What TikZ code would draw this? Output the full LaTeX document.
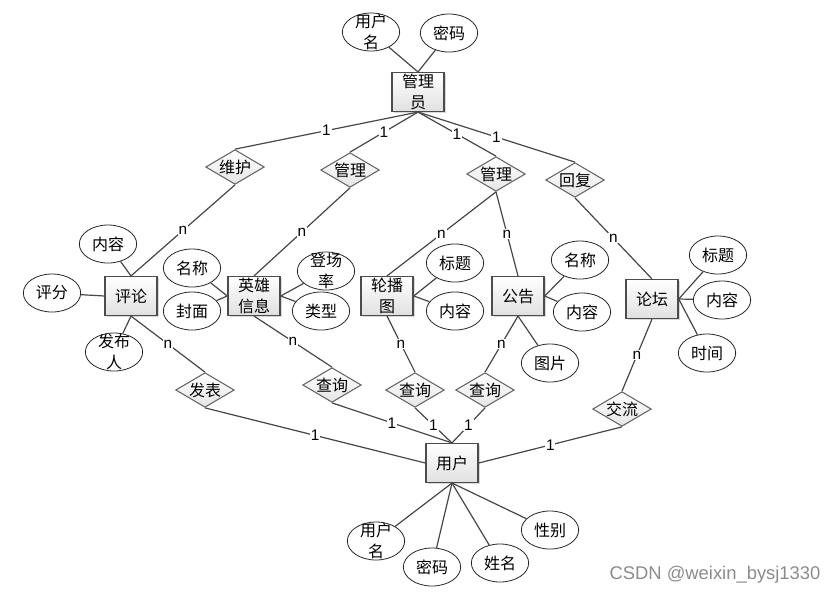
\documentclass[tikz,border=0pt]{standalone}
\usepackage{fontspec}
\setmainfont{Liberation Sans}
\newfontfamily\cjk{Noto Sans CJK SC}
\usetikzlibrary{shapes.geometric,shadows}
\newcommand\cjkfont{\cjk\fontsize{12}{15.5}\selectfont}
\begin{document}
\begin{tikzpicture}[x=0.75pt,y=-0.75pt,
  ent/.style={draw=black!70, line width=1.1pt, top color=white, bottom color=black!12,
    minimum width=39pt, minimum height=29pt, inner sep=0pt, align=center, font=\cjkfont,
    drop shadow={shadow xshift=1.3pt, shadow yshift=-1.3pt, opacity=0.3}},
  attr/.style={ellipse, draw=black!85, line width=0.6pt, fill=white,
    minimum width=43pt, minimum height=28.5pt, inner sep=0pt,
    label={[font=\cjkfont, align=center, inner sep=0pt]center:#1}},
  rel/.style={diamond, draw=black!60, line width=0.8pt, top color=white, bottom color=black!10,
    aspect=1.7, minimum width=44pt, minimum height=26pt, inner sep=0pt, font=\cjkfont},
  conn/.style={draw=black!72, line width=0.9pt},
  lab/.style={fill=white, inner sep=0.6pt, font=\fontsize{11.5}{13}\selectfont}
]
\useasboundingbox[fill=white] (0,0) rectangle (839,594);

% entities
\node[ent] (adm) at (418,92) {管理\\员};
\node[ent] (pl) at (131,296) {评论};
\node[ent] (yx) at (254,296) {英雄\\信息};
\node[ent] (lb) at (387,296) {轮播\\图};
\node[ent] (gg) at (518,296) {公告};
\node[ent] (lt) at (652,299) {论坛};
\node[ent] (us) at (452,463) {用户};

% relationships
\node[rel] (wh) at (235,167) {维护};
\node[rel] (gl1) at (350,170) {管理};
\node[rel] (gl2) at (496,174) {管理};
\node[rel] (hf) at (575,180) {回复};
\node[rel] (fb) at (205,390) {发表};
\node[rel] (cx1) at (332,385) {查询};
\node[rel] (cx2) at (415,390) {查询};
\node[rel] (cx3) at (485,390) {查询};
\node[rel] (jl) at (622,409) {交流};

% attributes
\node[attr={用户\\名}] (aun) at (371,32) {};
\node[attr={密码}] (apw) at (449,33) {};
\node[attr={内容}] (pnr) at (108,244) {};
\node[attr={评分}] (ppf) at (52,293) {};
\node[attr={发布\\人}] (pfb) at (114,352) {};
\node[attr={名称}] (ymc) at (192,268) {};
\node[attr={封面}] (yfm) at (192,311) {};
\node[attr={登场\\率}] (ydc) at (326,271) {};
\node[attr={类型}] (ylx) at (321,311) {};
\node[attr={标题}] (lbt) at (455,263) {};
\node[attr={内容}] (lnr) at (455,311) {};
\node[attr={名称}] (gmc) at (580,260) {};
\node[attr={内容}] (gnr) at (582,312) {};
\node[attr={图片}] (gtp) at (550,363) {};
\node[attr={标题}] (tbt) at (718,255) {};
\node[attr={内容}] (tnr) at (722,300) {};
\node[attr={时间}] (tsj) at (707,353) {};
\node[attr={用户\\名}] (uun) at (376,541) {};
\node[attr={密码}] (upw) at (432,567) {};
\node[attr={姓名}] (uxm) at (500,563) {};
\node[attr={性别}] (uxb) at (550,530) {};

% attribute connectors
\draw[conn] (aun) -- (adm.north);
\draw[conn] (apw) -- (adm.north);
\draw[conn] (pnr) -- (pl.north);
\draw[conn] (ppf) -- (pl.west);
\draw[conn] (pfb) -- (pl.south);
\draw[conn] (ymc) -- (yx.west);
\draw[conn] (yfm) -- (yx.west);
\draw[conn] (ydc) -- (yx.east);
\draw[conn] (ylx) -- (yx.east);
\draw[conn] (lbt) -- (lb.east);
\draw[conn] (lnr) -- (lb.east);
\draw[conn] (gmc) -- (gg.east);
\draw[conn] (gnr) -- (gg.east);
\draw[conn] (gtp) -- (gg.south);
\draw[conn] (tbt) -- (lt.east);
\draw[conn] (tnr) -- (lt.east);
\draw[conn] (tsj) -- (lt.east);
\draw[conn] (uun) -- (us.south);
\draw[conn] (upw) -- (us.south);
\draw[conn] (uxm) -- (us.south);
\draw[conn] (uxb) -- (us.south);

% relationship connectors
\draw[conn] (adm.south) -- node[lab] {1} (wh.north);
\draw[conn] (adm.south) -- node[lab] {1} (gl1.north);
\draw[conn] (adm.south) -- node[lab] {1} (gl2.north);
\draw[conn] (adm.south) -- node[lab] {1} (hf.north);
\draw[conn] (wh.south) -- node[lab] {n} (pl.north);
\draw[conn] (gl1.south) -- node[lab] {n} (yx.north);
\draw[conn] (gl2.south) -- node[lab] {n} (lb.north);
\draw[conn] (gl2.south) -- node[lab] {n} (gg.north);
\draw[conn] (hf.south) -- node[lab] {n} (lt.north);
\draw[conn] (pl.south) -- node[lab] {n} (fb.north);
\draw[conn] (yx.south) -- node[lab] {n} (cx1.north);
\draw[conn] (lb.south) -- node[lab] {n} (cx2.north);
\draw[conn] (gg.south) -- node[lab] {n} (cx3.north);
\draw[conn] (lt.south) -- node[lab] {n} (jl.north);
\draw[conn] (fb.south) -- node[lab] {1} (us.west);
\draw[conn] (cx1.south) -- node[lab] {1} (us.north);
\draw[conn] (cx2.south) -- node[lab] {1} (us.north);
\draw[conn] (cx3.south) -- node[lab] {1} (us.north);
\draw[conn] (jl.south) -- node[lab] {1} (us.east);

\node[text=black!45, font=\fontsize{13.8}{15}\selectfont] (wm) at (715,575) {CSDN @weixin\_bysj1330};
\end{tikzpicture}
\end{document}
